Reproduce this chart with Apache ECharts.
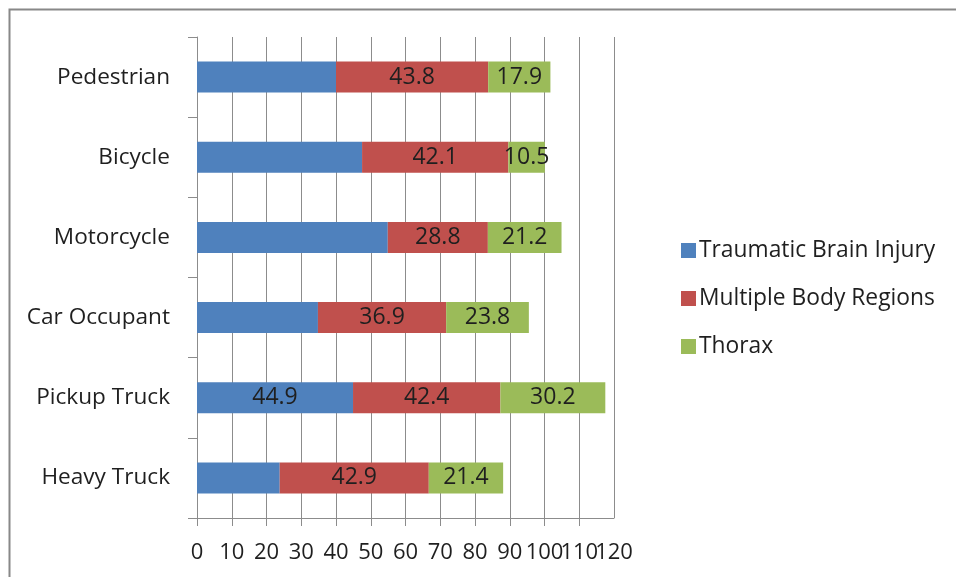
<!DOCTYPE html>
<html>
<head>
<meta charset="utf-8">
<script src="https://cdn.jsdelivr.net/npm/echarts@6/dist/echarts.min.js"></script>
<style>
  html, body { margin: 0; padding: 0; background: #fff; }
  #chart { width: 956px; height: 577px; }
</style>
</head>
<body>
<div id="chart"></div>
<script>
// Injury type share by road user group (stacked, bottom to top)
const categories = ['Heavy Truck', 'Pickup Truck', 'Car Occupant', 'Motorcycle', 'Bicycle', 'Pedestrian'];
const seriesNames = ['Traumatic Brain Injury', 'Multiple Body Regions', 'Thorax'];
const tbiValues = [23.8, 44.9, 34.8, 54.9, 47.5, 40.0];
const multiValues = [42.9, 42.4, 36.9, 28.8, 42.1, 43.8];
const thoraxValues = [21.4, 30.2, 23.8, 21.2, 10.5, 17.9];
// which bars carry a value label
const tbiLabeled = ['Pickup Truck'];
const multiLabeled = categories;
const thoraxLabeled = categories;
const xTicks = { min: 0, max: 120, step: 10 };

const colors = ['#4F81BD', '#C0504D', '#9BBB59'];
const FONT = '"Open Sans", sans-serif';
const textColor = '#1f1f1f';
const lineGray = '#8c8c8c';

function makeData(values, labeled) {
  return values.map((v, i) => ({
    value: v,
    label: { show: labeled.indexOf(categories[i]) !== -1 }
  }));
}

function makeSeries(name, values, labeled, color) {
  return {
    name: name,
    type: 'bar',
    stack: 'total',
    xAxisIndex: 0,
    barWidth: 31,
    itemStyle: { color: color },
    label: {
      position: 'inside',
      color: textColor,
      fontFamily: FONT,
      fontSize: 23,
      formatter: p => p.value.toFixed(1)
    },
    emphasis: { disabled: true },
    data: makeData(values, labeled)
  };
}

const tickLabelStyle = { fontFamily: FONT, fontSize: 22, color: textColor, margin: 24, hideOverlap: false };

const chart = echarts.init(document.getElementById('chart'), null, { renderer: 'canvas' });
chart.setOption({
  animation: false,
  backgroundColor: '#fff',
  color: colors,
  graphic: [{
    type: 'rect',
    left: 7, top: 7,
    shape: { width: 1000, height: 1000 },
    style: { fill: 'none', stroke: '#888', lineWidth: 2 },
    silent: true
  }],
  grid: { left: 197, right: 342, top: 37, bottom: 59, containLabel: false, outerBoundsMode: 'none' },
  legend: {
    orient: 'vertical',
    left: 676,
    top: 234,
    itemWidth: 15,
    itemHeight: 15,
    itemGap: 25,
    icon: 'rect',
    selectedMode: false,
    textStyle: { fontFamily: FONT, fontSize: 22.8, color: textColor, padding: [0, 0, 0, -2] },
    data: seriesNames
  },
  xAxis: [{
    // main value axis: line, ticks, grid and labels 0..110
    type: 'value',
    min: xTicks.min,
    max: xTicks.max,
    interval: xTicks.step,
    axisLine: { show: true, lineStyle: { color: lineGray, width: 1 } },
    axisTick: { show: true, length: 8, lineStyle: { color: lineGray } },
    splitLine: { show: true, lineStyle: { color: lineGray, width: 1 } },
    axisLabel: Object.assign({ showMinLabel: true, showMaxLabel: false }, tickLabelStyle)
  }, {
    // same scale, only carries the end label so the crowded "110" stays visible
    type: 'value',
    position: 'bottom',
    min: xTicks.min,
    max: xTicks.max,
    interval: xTicks.step,
    axisLine: { show: false },
    axisTick: { show: false },
    splitLine: { show: false },
    axisLabel: Object.assign({
      showMinLabel: false, showMaxLabel: true,
      formatter: v => (v === xTicks.max ? String(v) : '')
    }, tickLabelStyle)
  }],
  yAxis: {
    type: 'category',
    data: categories,
    axisLine: { show: true, lineStyle: { color: lineGray, width: 1 } },
    axisTick: { show: true, length: 9, lineStyle: { color: lineGray } },
    axisLabel: { fontFamily: FONT, fontSize: 22.6, color: textColor, margin: 27 }
  },
  series: [
    makeSeries(seriesNames[0], tbiValues, tbiLabeled, colors[0]),
    makeSeries(seriesNames[1], multiValues, multiLabeled, colors[1]),
    makeSeries(seriesNames[2], thoraxValues, thoraxLabeled, colors[2])
  ]
});
</script>
</body>
</html>
